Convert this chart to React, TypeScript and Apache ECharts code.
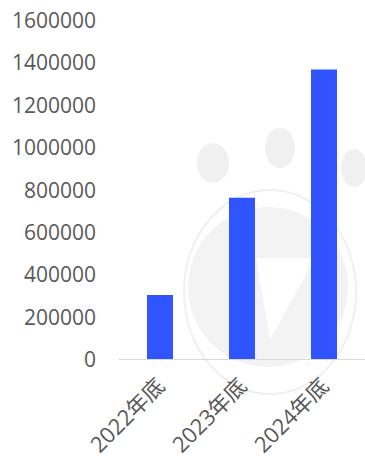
import React, { useEffect, useRef } from "react";
import * as echarts from "echarts";

const categories = ["2022年底", "2023年底", "2024年底"];
const values = [302000, 761000, 1366000];
const yMin = 0;
const yMax = 1600000;
const yInterval = 200000;

export default function App() {
  const ref = useRef<HTMLDivElement>(null);
  useEffect(() => {
    if (!ref.current) return;
    const chart = echarts.init(ref.current, undefined, { renderer: "svg" });
    const wm = "#f0f0f0";
    chart.setOption({
      animation: false,
      backgroundColor: "#ffffff",
      graphic: [
        { type: "ellipse", shape: { cx: 213, cy: 163, rx: 16, ry: 20 }, style: { fill: wm }, z: -10 },
        { type: "ellipse", shape: { cx: 280, cy: 148, rx: 15, ry: 20 }, style: { fill: wm }, z: -10 },
        { type: "ellipse", shape: { cx: 354, cy: 168, rx: 13, ry: 19 }, style: { fill: wm }, z: -10 },
        { type: "ellipse", shape: { cx: 270, cy: 292, rx: 86, ry: 102 }, style: { fill: "none", stroke: wm, lineWidth: 2 }, z: -10 },
        { type: "ellipse", shape: { cx: 268, cy: 287, rx: 80, ry: 80 }, style: { fill: "#f3f3f3" }, z: -10 },
        { type: "polygon", shape: { points: [[256, 258], [315, 258], [270, 340]] }, style: { fill: "#ffffff" }, z: -9 },
      ],
      grid: { left: 119, right: 0, top: 20, bottom: 104, containLabel: false },
      xAxis: {
        type: "category",
        data: categories,
        axisLine: { lineStyle: { color: "#d9d9d9", width: 1 } },
        axisTick: { show: false },
        axisLabel: {
          rotate: 45,
          interval: 0,
          margin: 22,
          color: "#595959",
          fontSize: 22,
          fontFamily: "Open Sans, Noto Sans CJK SC, sans-serif",
        },
      },
      yAxis: {
        type: "value",
        min: yMin,
        max: yMax,
        interval: yInterval,
        splitLine: { show: false },
        axisLine: { show: false },
        axisTick: { show: false },
        axisLabel: {
          margin: 23,
          color: "#595959",
          fontSize: 21,
          fontFamily: "Open Sans, sans-serif",
          formatter: (v: number) => String(v),
        },
      },
      series: [
        {
          type: "bar",
          data: values,
          barWidth: 26,
          itemStyle: { color: "#3054FF" },
        },
      ],
    });
    return () => chart.dispose();
  }, []);
  return <div ref={ref} style={{ width: 365, height: 463, position: "absolute", left: 0, top: 0 }} />;
}
